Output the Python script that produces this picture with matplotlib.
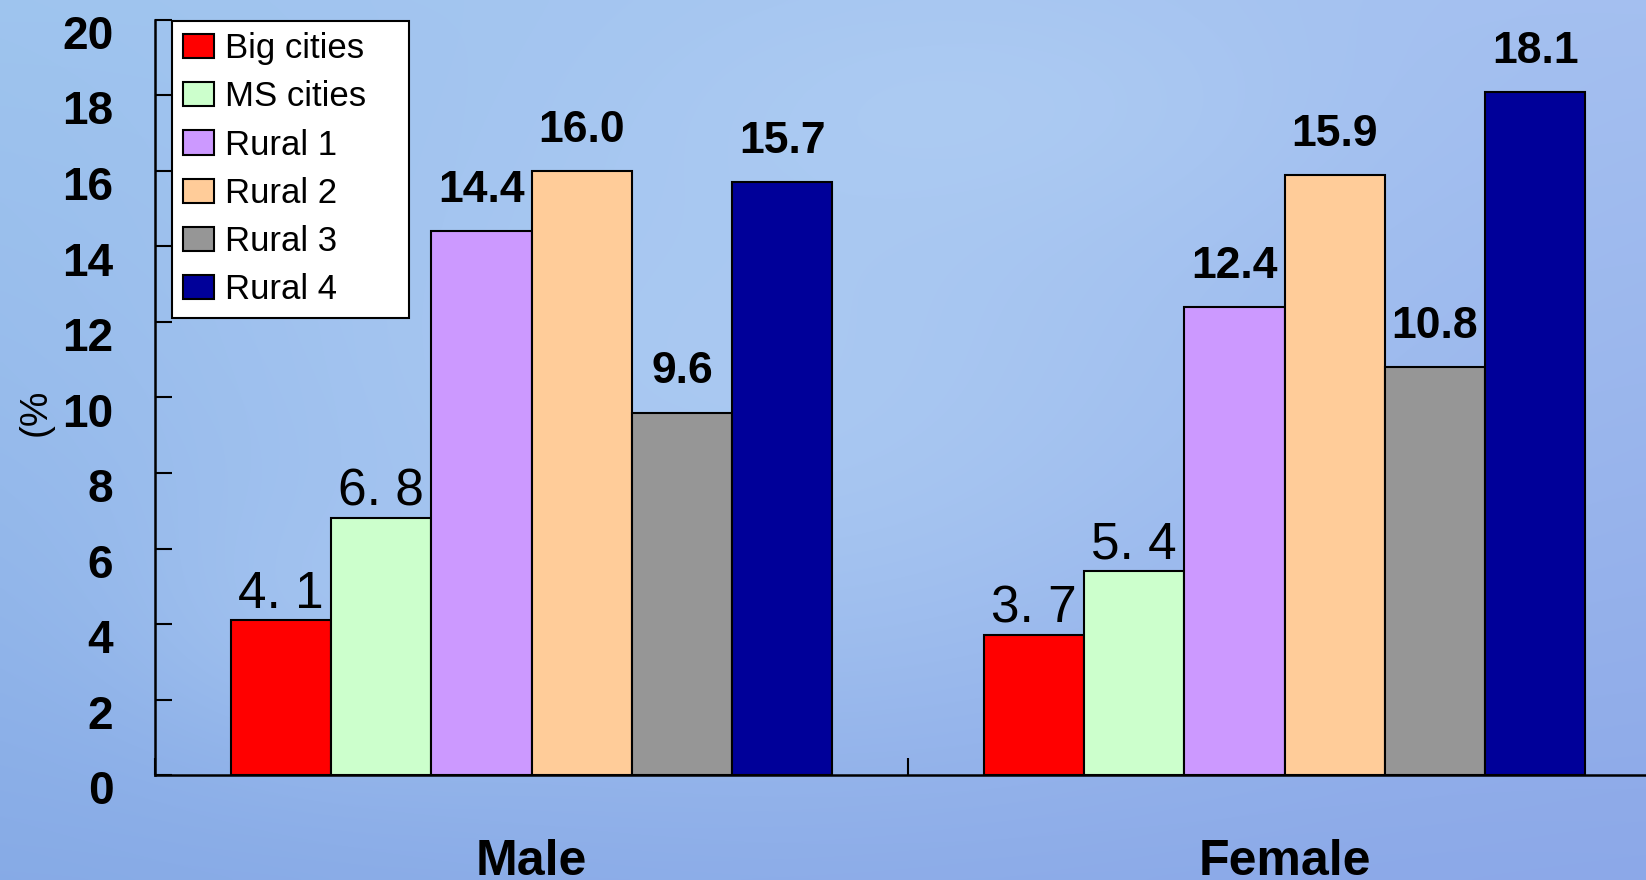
import numpy as np
import matplotlib
matplotlib.use("Agg")
import matplotlib.pyplot as plt
import matplotlib.patches as mpatches
from matplotlib.legend_handler import HandlerPatch
from matplotlib.transforms import ScaledTranslation

plt.rcParams['font.family'] = ['Liberation Sans', 'DejaVu Sans']

groups = ["Male", "Female"]
series = ["Big cities", "MS cities", "Rural 1", "Rural 2", "Rural 3", "Rural 4"]
big_cities = [4.1, 3.7]
ms_cities = [6.8, 5.4]
rural_1 = [14.4, 12.4]
rural_2 = [16.0, 15.9]
rural_3 = [9.6, 10.8]
rural_4 = [15.7, 18.1]
yticks = [0, 2, 4, 6, 8, 10, 12, 14, 16, 18, 20]

values = [big_cities, ms_cities, rural_1, rural_2, rural_3, rural_4]
colors = ["#ff0000", "#ccffcc", "#cc99ff", "#ffcc99", "#969696", "#000099"]
cities = {"Big cities", "MS cities"}

W, H = 1646, 880
fig = plt.figure(figsize=(W / 100, H / 100), dpi=100)

# soft blue backdrop
bg = fig.add_axes([0, 0, 1, 1], zorder=-10)
yy, xx = np.mgrid[0:1:220j, 0:1:400j]
tl = np.array([0x9e, 0xc4, 0xee]) / 255
tr = np.array([0xa4, 0xbf, 0xf0]) / 255
bl = np.array([0x86, 0xaa, 0xe6]) / 255
br = np.array([0x8c, 0xa8, 0xe8]) / 255
img = ((1 - xx)[..., None] * (1 - yy)[..., None] * tl + xx[..., None] * (1 - yy)[..., None] * tr
       + (1 - xx)[..., None] * yy[..., None] * bl + xx[..., None] * yy[..., None] * br)
light = np.array([0xb6, 0xd4, 0xf6]) / 255
for cx, cy, sx, sy, k in [(0.45, 0.45, 0.35, 0.4, 0.6), (0.6, 0.12, 0.2, 0.15, 0.4), (0.2, 0.7, 0.12, 0.15, 0.3)]:
    glow = k * np.exp(-(((xx - cx) / sx) ** 2 + ((yy - cy) / sy) ** 2))
    img = img * (1 - glow[..., None]) + light * glow[..., None]
bg.imshow(img, aspect="auto", extent=[0, 1, 0, 1], interpolation="bicubic")
bg.set_axis_off()

ax = fig.add_axes([155 / W, 105 / H, 1506 / W, 755 / H])
ax.set_facecolor("none")

x = np.arange(len(groups))
bw = 0.1332
for i, (name, vals, col) in enumerate(zip(series, values, colors)):
    pos = x + (i - 2.5) * bw
    ax.bar(pos, vals, bw, color=col, edgecolor="black", linewidth=1.5, label=name, zorder=3)
    for px, v in zip(pos, vals):
        if name in cities:
            ax.annotate(f"{v:.1f}".replace(".", ". "), (px, v), xytext=(0, 9), textcoords="offset points",
                        ha="center", va="baseline", fontsize=37)
        else:
            ax.annotate(f"{v:.1f}", (px, v), xytext=(0, 21), textcoords="offset points",
                        ha="center", va="baseline", fontsize=32, fontweight="bold")

ax.set_xlim(-0.5, 1.5)
ax.set_ylim(0, 20)
ax.set_yticks(yticks)
ax.set_yticklabels([str(t) for t in yticks], fontsize=33, fontweight="bold")
ax.tick_params(axis="y", direction="in", length=12, width=1.5, pad=30)
ax.set_xticks(x)
ax.set_xticklabels(groups, fontsize=36, fontweight="bold")
ax.tick_params(axis="x", which="major", length=0, pad=46)
ax.set_xticks([-0.5, 0.5, 1.5], minor=True)
ax.tick_params(axis="x", which="minor", direction="in", length=12, width=1.5)

shift = ScaledTranslation(0, -0.12, fig.dpi_scale_trans)
for lab in ax.get_yticklabels():
    lab.set_transform(lab.get_transform() + shift)

for side in ["top", "right"]:
    ax.spines[side].set_visible(False)
for side in ["left", "bottom"]:
    ax.spines[side].set_linewidth(1.8)
    ax.spines[side].set_zorder(4)

fig.text(36 / W, 1 - 412 / H, "(%", rotation=90, ha="center", va="center", fontsize=28)


def square(legend, orig_handle, xdescent, ydescent, width, height, fontsize):
    s = 0.6 * fontsize
    return mpatches.Rectangle((width - s - xdescent, -ydescent + (height - s) / 2), s, s)


leg = ax.legend(loc="upper left", bbox_to_anchor=(17 / 1506, 0.6185, 237 / 1506, 0.3802),
                mode="expand", borderaxespad=0, fontsize=25, fancybox=False, shadow=False,
                framealpha=1, edgecolor="black", handlelength=0.9, handleheight=0.7,
                handletextpad=0.3, labelspacing=0.44, borderpad=0.32,
                handler_map={mpatches.Rectangle: HandlerPatch(patch_func=square)})
leg.get_frame().set_linewidth(1.5)
leg.set_zorder(5)

fig.savefig("out.png", dpi=100)
